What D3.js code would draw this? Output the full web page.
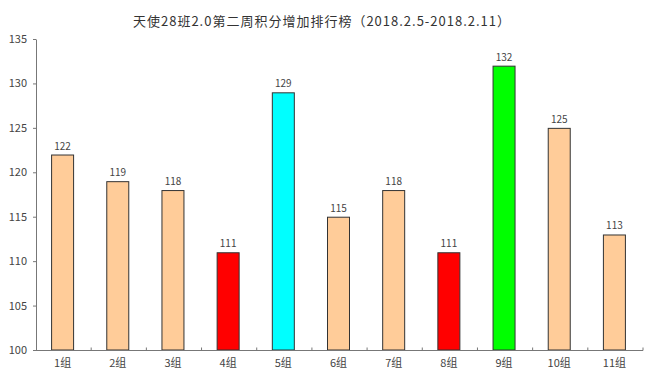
<!DOCTYPE html>
<html><head><meta charset="utf-8">
<script src="https://cdn.jsdelivr.net/npm/d3@7"></script>
<style>
body{margin:0;background:#fff;}
svg text{font-family:"Noto Sans CJK SC","DejaVu Sans",sans-serif;}
</style></head>
<body><svg id="c" width="650" height="379"></svg>
<script>
const title = "天使28班2.0第二周积分增加排行榜（2018.2.5-2018.2.11）";
const categories = ["1组","2组","3组","4组","5组","6组","7组","8组","9组","10组","11组"];
const values = [122,119,118,111,129,115,118,111,132,125,113];
const barColors = ["#FFCC99","#FFCC99","#FFCC99","#FF0000","#00FFFF","#FFCC99","#FFCC99","#FF0000","#00FF00","#FFCC99","#FFCC99"];
const yTicks = [100,105,110,115,120,125,130,135];

const svg = d3.select("#c");
const m = {l:36, r:643, t:39, b:350};
const x = d3.scaleBand().domain(categories).range([m.l, m.r]).paddingInner(0).paddingOuter(0);
const y = d3.scaleLinear().domain([100,135]).range([m.b, m.t]);

svg.append("rect").attr("width",650).attr("height",379).attr("fill","#fff");

svg.append("text").attr("x",133).attr("y",26)
  .attr("font-size",13).attr("fill","#333")
  .attr("textLength",377).attr("lengthAdjust","spacing").text(title);

// y axis
const ya = svg.append("g").attr("transform",`translate(${m.l},0)`)
  .call(d3.axisLeft(y).tickValues(yTicks).tickSize(3).tickSizeOuter(0).tickPadding(6));
ya.select(".domain").attr("stroke","#777");
ya.selectAll(".tick line").attr("stroke","#777");
ya.selectAll(".tick text").attr("font-size",11).attr("fill","#444");

// bars
const bw = 22;
svg.selectAll("rect.bar").data(values).join("rect").attr("class","bar")
  .attr("x",(d,i)=>x(categories[i]) + x.bandwidth()/2 - bw/2 - 1)
  .attr("width",bw)
  .attr("y",d=>y(d)+0.5)
  .attr("height",d=>y(100)-y(d)-0.5)
  .attr("fill",(d,i)=>barColors[i])
  .attr("stroke","#333").attr("stroke-width",1);

svg.selectAll("text.val").data(values).join("text").attr("class","val")
  .attr("x",(d,i)=>x(categories[i]) + x.bandwidth()/2 - 1)
  .attr("y",d=>y(d)-5)
  .attr("text-anchor","middle").attr("font-size",10).attr("fill","#444")
  .text(d=>d);

// x axis
const xa = svg.append("g").attr("transform",`translate(0,${m.b})`);
xa.append("line").attr("x1",m.l).attr("x2",m.r).attr("y1",0.5).attr("y2",0.5).attr("stroke","#777");
const bounds = categories.map(c=>x(c)).concat([m.r]).slice(1);
xa.selectAll("line.t").data(bounds).join("line").attr("class","t")
  .attr("x1",d=>d).attr("x2",d=>d).attr("y1",0.5).attr("y2",-2.5).attr("stroke","#777");
xa.selectAll("text").data(categories).join("text")
  .attr("x",c=>x(c)+x.bandwidth()/2 - 1).attr("y",17)
  .attr("text-anchor","middle").attr("font-size",11).attr("fill","#444").text(c=>c);
</script></body></html>
